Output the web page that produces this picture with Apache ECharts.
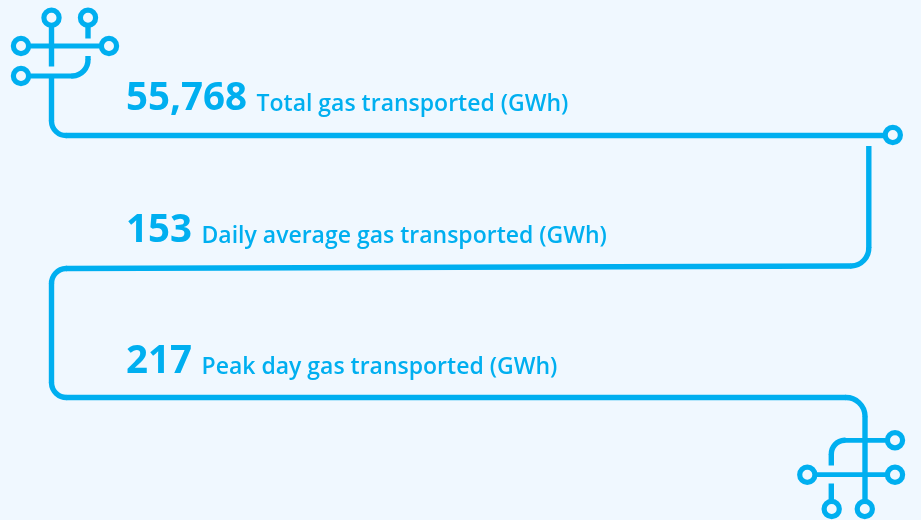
<!DOCTYPE html>
<html>
<head>
<meta charset="utf-8">
<style>
  html, body { margin: 0; padding: 0; background: #f0f8ff; }
  #chart { width: 921px; height: 520px; }
</style>
</head>
<body>
<div id="chart"></div>
<script src="https://cdn.jsdelivr.net/npm/echarts@6/dist/echarts.min.js"></script>
<script>
var statValues = ['55,768', '153', '217']
var statLabels = [
  'Total gas transported (GWh)',
  'Daily average gas transported (GWh)',
  'Peak day gas transported (GWh)'
]

var BLUE = '#00aff0'
var BG = '#f0f8ff'
var FONT = '"Open Sans", sans-serif'

// text rows: y centre, x of the number, x of the label
var rows = [
  { y: 99.5, numX: 126, labelX: 256.5 },
  { y: 231, numX: 126, labelX: 201.5 },
  { y: 362.5, numX: 126, labelX: 201.5 }
]

var chart = echarts.init(document.getElementById('chart'))
var items = []

function line(x1, y1, x2, y2, w) {
  items.push({
    type: 'line',
    z: 1,
    shape: { x1: x1, y1: y1, x2: x2, y2: y2 },
    style: { stroke: BLUE, lineWidth: w || 5.4, lineCap: 'butt' }
  })
}

// corner of a pipe, angles in degrees (canvas direction), small overlap hides the seams
function corner(cx, cy, r, from, to) {
  items.push({
    type: 'arc',
    z: 1,
    shape: { cx: cx, cy: cy, r: r, startAngle: (from - 2) * Math.PI / 180, endAngle: (to + 2) * Math.PI / 180, clockwise: true },
    style: { stroke: BLUE, fill: null, lineWidth: 5.4, lineCap: 'butt' }
  })
}

function node(cx, cy) {
  items.push({
    type: 'circle',
    z: 2,
    shape: { cx: cx, cy: cy, r: 7.6 },
    style: { fill: BG, stroke: BLUE, lineWidth: 5.2 }
  })
}

// top left icon
line(51.5, 18, 51.5, 66.5)
line(88, 18, 88, 38.5)
line(21, 46, 109, 46, 4.8)
line(88, 56, 88, 60)
corner(72, 60, 16, 0, 90)
line(72, 76, 21, 76, 4.8)
node(51.5, 17.7)
node(88, 17.7)
node(21, 46)
node(109, 46)
node(21, 76)

// main pipe
line(51.5, 76, 51.5, 121)
corner(66, 121, 14.5, 90, 180)
line(66, 135.5, 893, 135.5)
node(892.8, 135)

line(868.8, 146, 868.8, 248)
corner(850.8, 248, 18, 0, 90)
line(850.8, 266, 66, 268.5)
corner(66.5, 283.5, 15, 180, 270)
line(51.5, 283.5, 51.5, 382.5)
corner(66.5, 382.5, 15, 90, 180)
line(66.5, 397.5, 846, 397.5)
corner(846, 416.5, 19, 270, 360)
line(865, 416.5, 865, 509)

// bottom right icon
line(807, 474.7, 895, 474.7, 4.8)
line(895, 440.3, 845, 440.3, 4.8)
corner(845, 454, 13.7, 180, 270)
line(831.3, 454, 831.3, 465.5)
line(831.3, 483.5, 831.3, 509)
node(895, 440.3)
node(895, 474.7)
node(807.3, 474.7)
node(831.7, 509)
node(864.8, 509)

statValues.forEach(function (val, i) {
  items.push({
    type: 'text',
    z: 3,
    x: rows[i].numX,
    y: rows[i].y,
    style: { text: val, fill: BLUE, font: 'bold 38.5px ' + FONT, textAlign: 'left', textVerticalAlign: 'middle' }
  })
  items.push({
    type: 'text',
    z: 3,
    x: rows[i].labelX,
    y: rows[i].y + 5,
    style: { text: statLabels[i], fill: BLUE, font: '600 23px ' + FONT, textAlign: 'left', textVerticalAlign: 'middle' }
  })
})

chart.setOption({
  backgroundColor: BG,
  animation: false,
  graphic: { elements: items }
})
</script>
</body>
</html>
